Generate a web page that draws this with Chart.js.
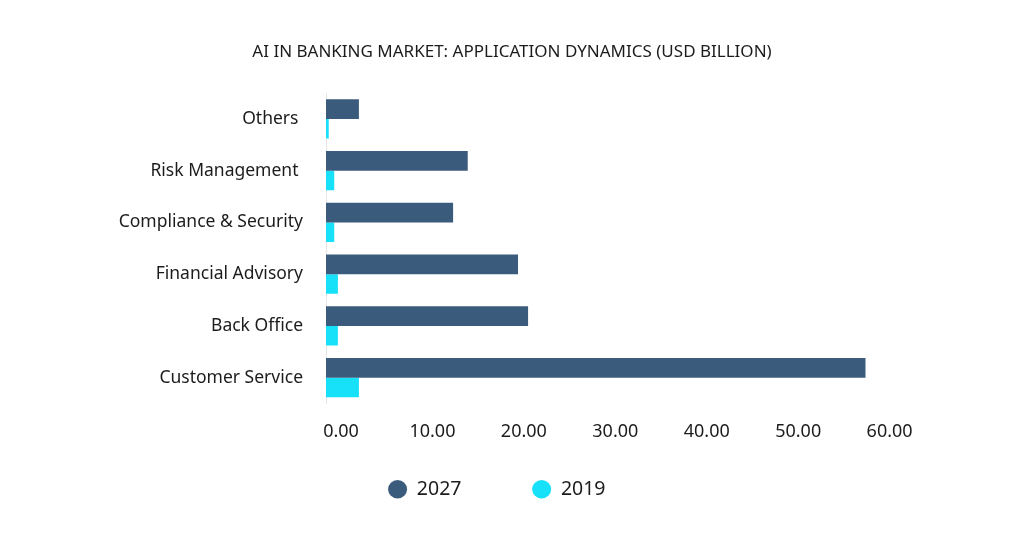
<!DOCTYPE html>
<html>
<head>
<meta charset="utf-8">
<script src="https://cdn.jsdelivr.net/npm/chart.js@4/dist/chart.umd.min.js"></script>
<style>
    html, body { margin: 0; padding: 0; background: #fff; }
    #wrap { width: 1024px; height: 536px; }
</style>
</head>
<body>
<div id="wrap"><canvas id="chart"></canvas></div>
<script>
// data
const categories = ["Others ", "Risk Management ", "Compliance & Security", "Financial Advisory", "Back Office", "Customer Service"];
const values2027 = [3.6, 15.5, 13.9, 21.0, 22.1, 59.0];
const values2019 = [0.3, 0.9, 0.9, 1.3, 1.3, 3.6];
const seriesNames = ["2027", "2019"];
const xTicks = [0, 10, 20, 30, 40, 50, 60];

const darkBlue = "#3b5b7d";
const cyan = "#17e1f9";
const textColor = "#1c1c1c";
const fontFamily = "'Noto Sans', sans-serif";

// trailing blanks widen the legend items so they sit like the original
const legendTail = ["          ", "      "];

new Chart(document.getElementById("chart"), {
    type: "bar",
    data: {
        labels: categories,
        datasets: [
            { label: seriesNames[0], data: values2027, backgroundColor: darkBlue },
            { label: seriesNames[1], data: values2019, backgroundColor: cyan }
        ]
    },
    options: {
        indexAxis: "y",
        responsive: true,
        maintainAspectRatio: false,
        animation: false,
        categoryPercentage: 0.76,
        barPercentage: 1.0,
        layout: {
            padding: { left: 100, right: 100, top: 0, bottom: 27 }
        },
        scales: {
            x: {
                min: 0,
                max: 65.4,
                grid: { display: false, drawTicks: false },
                border: { display: false },
                afterBuildTicks: axis => {
                    axis.ticks = xTicks.map(v => ({ value: v }));
                },
                afterFit: axis => { axis.height = 56; },
                ticks: {
                    padding: 18,
                    labelOffset: 15,
                    color: textColor,
                    font: { family: fontFamily, size: 18 },
                    callback: v => v.toFixed(2)
                }
            },
            y: {
                grid: { display: false, drawTicks: false },
                border: { display: true, color: "#e6e6e6", width: 1 },
                afterFit: axis => { axis.width = 226; },
                ticks: {
                    padding: 23,
                    color: textColor,
                    font: { family: fontFamily, size: 17.5 }
                }
            }
        },
        plugins: {
            title: {
                display: true,
                text: "AI IN BANKING MARKET: APPLICATION DYNAMICS (USD BILLION)",
                color: textColor,
                font: { family: fontFamily, size: 17, weight: "normal", lineHeight: 1.2 },
                padding: { top: 42, bottom: 30.6 }
            },
            legend: {
                position: "bottom",
                labels: {
                    usePointStyle: true,
                    pointStyle: "circle",
                    pointStyleWidth: 19,
                    boxHeight: 13,
                    padding: 20,
                    color: textColor,
                    font: { family: fontFamily, size: 19.5 },
                    generateLabels: chart => {
                        const items = Chart.defaults.plugins.legend.labels.generateLabels(chart);
                        items.forEach((item, i) => { item.text = item.text + legendTail[i]; });
                        return items;
                    }
                }
            },
            tooltip: { enabled: false }
        }
    }
});
</script>
</body>
</html>
